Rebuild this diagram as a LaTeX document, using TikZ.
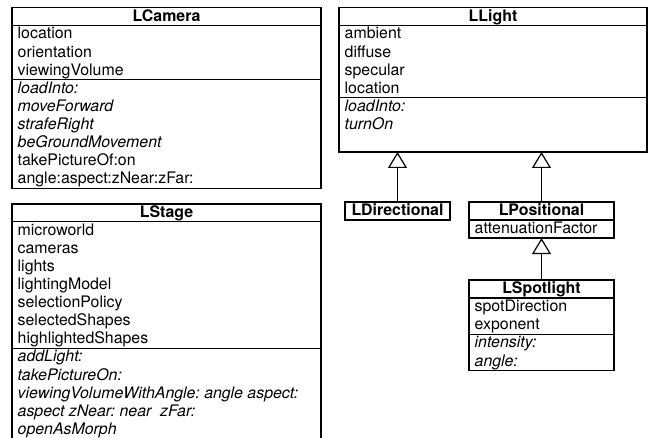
\documentclass[tikz,border=0pt]{standalone}
\usepackage{fontspec}
\setmainfont{TeX Gyre Heros}
\usetikzlibrary{arrows.meta}
\frenchspacing
\newcommand\umlfont{\fontsize{15.9}{18.1}\selectfont}
\newcommand\rs{\rule[-4.6pt]{0pt}{18.1pt}}
\begin{document}
\begin{tikzpicture}[x=1pt,y=-1pt,
  box/.style={draw, line width=1.2pt, anchor=north west, inner sep=0pt, outer sep=0pt},
  title/.style={box, font=\umlfont\bfseries, text height=11pt, text depth=2pt},
  rows/.style={anchor=north west, inner sep=0pt, align=left, font=\umlfont\frenchspacing},
  gen/.style={line width=1.2pt, -{Triangle[open, length=16pt, width=19pt, line width=1.2pt]}}
]
\useasboundingbox (0,0) rectangle (650,438);
\fill[white] (0,0) rectangle (650,438);
\begin{scope}
\clip (0,0) rectangle (650,438);
% LCamera
\node[title, minimum width=309pt, minimum height=17.5pt] (cam) at (12,7.8) {LCamera};
\node[box, minimum width=309pt, minimum height=54.3pt] (camA) at (cam.south west) {};
\node[rows] (camAt) at ([xshift=5.5pt]camA.north west) {\rs location\\\rs orientation\\\rs viewingVolume};
\node[box, minimum width=309pt, minimum height=108.6pt] (camM) at (camA.south west) {};
\node[rows] (camMt) at ([xshift=5.5pt]camM.north west) {\rs\textit{loadInto:}\\\rs\textit{moveForward}\\\rs\textit{strafeRight}\\\rs\textit{beGroundMovement}\\\rs takePictureOf:on\\\rs angle:aspect:zNear:zFar:};
% LStage
\node[title, minimum width=309pt, minimum height=17.5pt] (stage) at (12,204) {LStage};
\node[box, minimum width=309pt, minimum height=126.7pt] (stageA) at (stage.south west) {};
\node[rows] (stageAt) at ([xshift=5.5pt]stageA.north west) {\rs microworld\\\rs cameras\\\rs lights\\\rs lightingModel\\\rs selectionPolicy\\\rs selectedShapes\\\rs highlightedShapes};
\node[box, minimum width=309pt, minimum height=100pt] (stageM) at (stageA.south west) {};
\node[rows] (stageMt) at ([xshift=5.5pt]stageM.north west) {\rs\textit{addLight:}\\\rs\textit{takePictureOn:}\\\rs\textit{viewingVolumeWithAngle: angle aspect:}\\\rs\textit{aspect zNear: near\ \ zFar:}\\\rs\textit{openAsMorph}};
% LLight
\node[title, minimum width=308pt, minimum height=17.5pt] (light) at (339,7.8) {LLight};
\node[box, minimum width=308pt, minimum height=72.4pt] (lightA) at (light.south west) {};
\node[rows] (lightAt) at ([xshift=5.5pt]lightA.north west) {\rs ambient\\\rs diffuse\\\rs specular\\\rs location};
\node[box, minimum width=308pt, minimum height=54.3pt] (lightM) at (lightA.south west) {};
\node[rows] (lightMt) at ([xshift=5.5pt]lightM.north west) {\rs\textit{loadInto:}\\\rs\textit{turnOn}};
% LDirectional
\node[title, minimum width=105pt, minimum height=18pt] (ldir) at (345,202) {LDirectional};
% LPositional
\node[title, minimum width=145pt, minimum height=18pt] (lpos) at (469,202) {LPositional};
\node[box, minimum width=145pt, minimum height=18.1pt] (lposA) at (lpos.south west) {};
\node[rows] (lposAt) at ([xshift=5.5pt]lposA.north west) {\rs attenuationFactor};
% LSpotlight
\node[title, minimum width=145pt, minimum height=18pt] (spot) at (469,280) {LSpotlight};
\node[box, minimum width=145pt, minimum height=36.2pt] (spotA) at (spot.south west) {};
\node[rows] (spotAt) at ([xshift=5.5pt]spotA.north west) {\rs spotDirection\\\rs exponent};
\node[box, minimum width=145pt, minimum height=36.2pt] (spotM) at (spotA.south west) {};
\node[rows] (spotMt) at ([xshift=5.5pt]spotM.north west) {\rs\textit{intensity:}\\\rs\textit{angle:}};
% generalizations
\draw[gen] (ldir.north) -- (ldir.north |- lightM.south);
\draw[gen] (lpos.north) -- (lpos.north |- lightM.south);
\draw[gen] (spot.north) -- (lposA.south);
\end{scope}
\end{tikzpicture}
\end{document}
